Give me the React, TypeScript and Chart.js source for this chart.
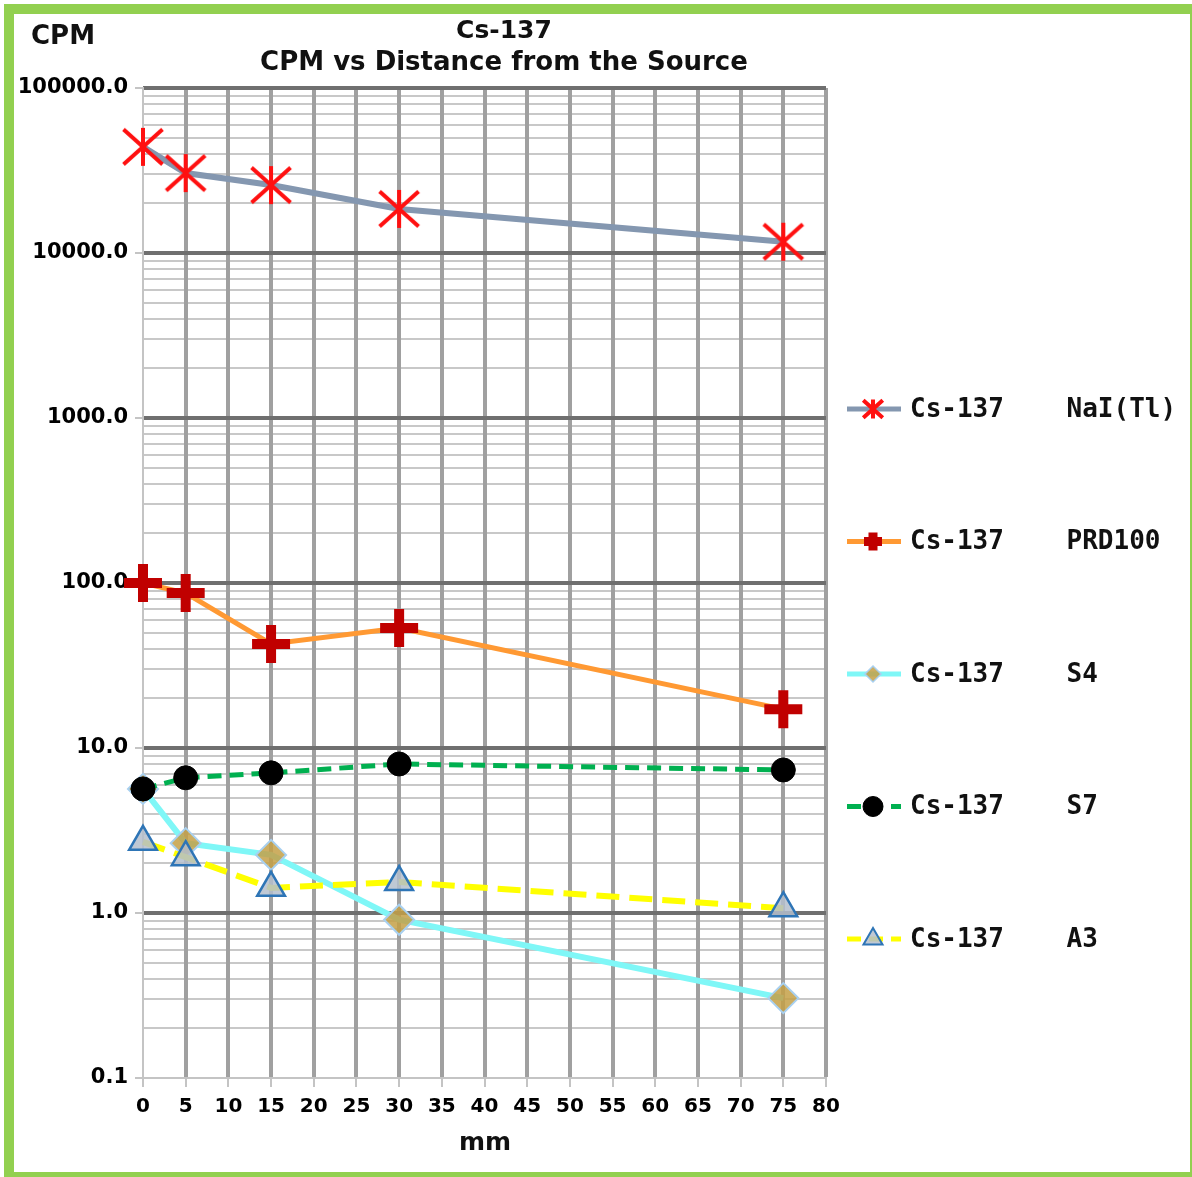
import React, { useEffect, useRef } from 'react';
import { Chart, registerables } from 'chart.js';
import { drawPoint } from 'chart.js/helpers';

Chart.register(...registerables);

// ---- data ----
const distanceMm = [0, 5, 15, 30, 75];
const naiCpm = [44000, 30500, 25800, 18500, 11700];
const prd100Cpm = [100, 87, 42.7, 53.4, 17.2];
const s4Cpm = [5.65, 2.65, 2.25, 0.91, 0.305];
const s7Cpm = [5.65, 6.6, 7.07, 8.0, 7.36];
const a3Cpm = [2.7, 2.18, 1.42, 1.54, 1.07];

const sourceName = 'Cs-137';
const detectorNames = ['NaI(Tl)', 'PRD100', 'S4', 'S7', 'A3'];
const seriesLabels = detectorNames.map((d) => `${sourceName}    ${d}`);

const xMin = 0;
const xMax = 80;
const xStep = 5;
const yDecades = [0.1, 1, 10, 100, 1000, 10000, 100000];
const yMinorMultipliers = [1, 2, 3, 4, 5, 6, 7, 8, 9];

const titleLines = ['Cs-137', 'CPM vs Distance from the Source'];
const yAxisTitle = 'CPM';
const xAxisTitle = 'mm';

const SANS = '"DejaVu Sans", Verdana, sans-serif';
const MONO = '"DejaVu Sans Mono", monospace';

const isDecade = (v: number) => Math.abs(Math.log10(v) - Math.round(Math.log10(v))) < 1e-6;

const yTickValues: number[] = [];
yDecades.slice(0, -1).forEach((d) => yMinorMultipliers.forEach((m) => yTickValues.push(+(d * m).toPrecision(6))));
yTickValues.push(yDecades[yDecades.length - 1]);

function makeStar(scale: number, lw: number) {
  const size = Math.ceil(44 * scale) + 4;
  const c = document.createElement('canvas');
  c.width = size;
  c.height = size;
  const g = c.getContext('2d')!;
  const h = size / 2;
  const dx = 19.5 * scale;
  const dy = 17.5 * scale;
  const r = 19 * scale;
  g.strokeStyle = '#ff1010';
  g.lineWidth = lw;
  g.beginPath();
  g.moveTo(h - dx, h - dy);
  g.lineTo(h + dx, h + dy);
  g.moveTo(h + dx, h - dy);
  g.lineTo(h - dx, h + dy);
  g.moveTo(h, h - r);
  g.lineTo(h, h + r);
  g.stroke();
  return c;
}

export default function App() {
  const ref = useRef<HTMLCanvasElement>(null);

  useEffect(() => {
    const canvas = ref.current!;
    const starBig = makeStar(1, 4);
    const starSmall = makeStar(0.5, 4);

    const pts = (ys: number[]) => distanceMm.map((x, i) => ({ x, y: ys[i] }));

    const legendMarkers: any[] = [
      { style: starSmall, radius: 10, borderWidth: 0 },
      { style: 'cross', radius: 9, borderWidth: 9 },
      { style: 'rectRot', radius: 8, borderWidth: 1.5 },
      { style: 'circle', radius: 10, borderWidth: 1 },
      { style: 'triangle', radius: 11, borderWidth: 2 },
    ];

    const sidePlugin = {
      id: 'sideLegendAndTitles',
      afterDraw(chart: any) {
        const ctx = chart.ctx as CanvasRenderingContext2D;
        chart.data.datasets.forEach((ds: any, i: number) => {
          const y = 409 + i * 132.5;
          ctx.save();
          ctx.strokeStyle = ds.borderColor;
          ctx.lineWidth = 5;
          ctx.setLineDash(ds.borderDash ? [14, 8] : []);
          ctx.beginPath();
          ctx.moveTo(847, y);
          ctx.lineTo(901, y);
          ctx.stroke();
          ctx.setLineDash([]);
          const lm = legendMarkers[i];
          ctx.fillStyle = ds.pointBackgroundColor;
          ctx.strokeStyle = ds.pointBorderColor;
          ctx.lineWidth = lm.borderWidth;
          drawPoint(ctx, { pointStyle: lm.style, radius: lm.radius, rotation: 0, borderWidth: lm.borderWidth } as any, 873, y);
          ctx.fillStyle = '#111';
          ctx.font = `bold 26px ${MONO}`;
          ctx.textBaseline = 'middle';
          ctx.textAlign = 'left';
          ctx.fillText(ds.label, 910, y + 1);
          ctx.restore();
        });

        ctx.save();
        ctx.fillStyle = '#111';
        ctx.textBaseline = 'middle';
        ctx.textAlign = 'center';
        ctx.font = `bold 25px ${SANS}`;
        ctx.fillText(titleLines[0], 504, 31);
        ctx.font = `bold 26px ${SANS}`;
        ctx.fillText(titleLines[1], 504, 63);
        ctx.font = `bold 25px ${SANS}`;
        ctx.fillText(xAxisTitle, 485, 1143);
        ctx.font = `bold 26px ${SANS}`;
        ctx.textAlign = 'left';
        ctx.fillText(yAxisTitle, 31, 37);
        ctx.restore();
      },
    };

    const chart = new Chart(canvas, {
      type: 'line',
      data: {
        datasets: [
          {
            label: seriesLabels[0],
            data: pts(naiCpm),
            borderColor: '#8497b0',
            borderWidth: 6,
            pointStyle: starBig as any,
            pointRadius: 20,
            pointBackgroundColor: '#ff1010',
            pointBorderColor: '#ff1010',
            order: 5,
          },
          {
            label: seriesLabels[1],
            data: pts(prd100Cpm),
            borderColor: '#ff9933',
            borderWidth: 5,
            pointStyle: 'cross',
            pointRadius: 19,
            pointBorderWidth: 10,
            pointBackgroundColor: '#c00000',
            pointBorderColor: '#c00000',
            order: 4,
          },
          {
            label: seriesLabels[2],
            data: pts(s4Cpm),
            borderColor: '#7ff7f7',
            borderWidth: 6,
            pointStyle: 'rectRot',
            pointRadius: 15,
            pointBorderWidth: 2,
            pointBackgroundColor: 'rgba(196,160,70,0.85)',
            pointBorderColor: '#a8d0f0',
            order: 3,
          },
          {
            label: seriesLabels[3],
            data: pts(s7Cpm),
            borderColor: '#00b050',
            borderWidth: 5,
            borderDash: [14, 8],
            pointStyle: 'circle',
            pointRadius: 12,
            pointBorderWidth: 1,
            pointBackgroundColor: '#000',
            pointBorderColor: '#000',
            order: 2,
          },
          {
            label: seriesLabels[4],
            data: pts(a3Cpm),
            borderColor: '#ffff00',
            borderWidth: 6,
            borderDash: [23, 10],
            pointStyle: 'triangle',
            pointRadius: 16,
            pointBorderWidth: 2.5,
            pointBackgroundColor: 'rgba(180,190,205,0.85)',
            pointBorderColor: '#2e75b6',
            order: 1,
          },
        ] as any,
      },
      options: {
        animation: false,
        responsive: false,
        devicePixelRatio: 1,
        events: [],
        layout: { padding: { top: 88, right: 366, left: 0, bottom: 0 } },
        elements: { line: { tension: 0 } },
        datasets: { line: { clip: false as any } },
        plugins: { legend: { display: false }, tooltip: { enabled: false }, title: { display: false } },
        scales: {
          x: {
            type: 'linear',
            min: xMin,
            max: xMax,
            afterFit: (s: any) => {
              s.height = 99;
            },
            ticks: {
              stepSize: xStep,
              autoSkip: false,
              maxRotation: 0,
              color: '#000',
              padding: 8,
              font: { family: SANS, size: 20, weight: 'bold' },
            },
            grid: {
              z: -2,
              color: (c: any) => (c.tick && c.tick.value === xMin ? '#c4c4c4' : '#a0a0a0'),
              lineWidth: (c: any) => (c.tick && c.tick.value === xMin ? 2 : 4),
              tickColor: '#c4c4c4',
              tickWidth: 2,
              tickLength: 9,
            },
            border: { color: '#c4c4c4', width: 2 },
          },
          y: {
            type: 'logarithmic',
            position: 'left',
            min: yDecades[0],
            max: yDecades[yDecades.length - 1],
            afterFit: (s: any) => {
              s.width = 143;
            },
            afterBuildTicks: (s: any) => {
              s.ticks = yTickValues.map((v) => ({ value: v }));
            },
            ticks: {
              autoSkip: false,
              color: '#000',
              padding: 7,
              font: { family: SANS, size: 21, weight: 'bold' },
              callback: (v: any) => (isDecade(Number(v)) ? Number(v).toFixed(1) : ''),
            },
            grid: {
              z: -3,
              color: (c: any) => (c.tick && isDecade(c.tick.value) ? 'rgba(0,0,0,0)' : '#c8c8c8'),
              lineWidth: 2,
              tickColor: (c: any) => (c.tick && isDecade(c.tick.value) ? '#c4c4c4' : 'rgba(0,0,0,0)'),
              tickWidth: 2,
              tickLength: 8,
            },
            border: { color: '#c4c4c4', width: 2 },
          },
          y2: {
            type: 'logarithmic',
            position: 'left',
            min: yDecades[0],
            max: yDecades[yDecades.length - 1],
            afterFit: (s: any) => {
              s.width = 0;
            },
            afterBuildTicks: (s: any) => {
              s.ticks = yDecades.map((v) => ({ value: v }));
            },
            ticks: { display: false },
            grid: {
              z: -1,
              color: (c: any) => (c.tick && c.tick.value === yDecades[0] ? 'rgba(0,0,0,0)' : '#6f6f6f'),
              lineWidth: 4,
              drawTicks: false,
            },
            border: { display: false },
          },
        } as any,
      },
      plugins: [sidePlugin],
    });

    return () => chart.destroy();
  }, []);

  return (
    <div
      style={{
        position: 'fixed',
        left: 0,
        top: 0,
        width: 1192,
        height: 1177,
        overflow: 'hidden',
        background: '#fff',
      }}
    >
      <div
        style={{
          position: 'absolute',
          left: 4,
          top: 4,
          width: 1176,
          height: 1158,
          border: '10px solid #92d050',
        }}
      />
      <canvas
        ref={ref}
        width={1192}
        height={1177}
        style={{ position: 'absolute', left: 0, top: 0, width: 1192, height: 1177 }}
      />
    </div>
  );
}
